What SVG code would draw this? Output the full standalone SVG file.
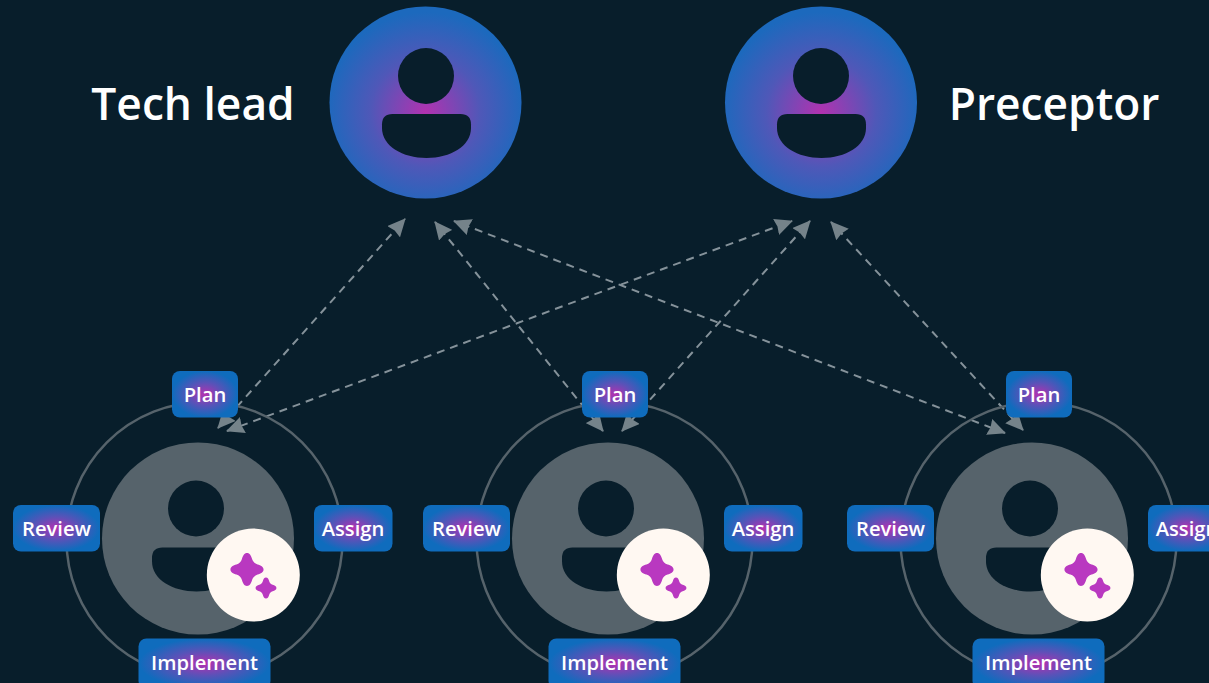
<svg xmlns="http://www.w3.org/2000/svg" width="1209" height="683" viewBox="0 0 1209 683">
<style>
.t{font-family:"Open Sans","Noto Sans","Liberation Sans",sans-serif;fill:#fff;text-anchor:middle}
.big{font-size:44.3px;font-weight:600}
.tag{font-size:20.200px;font-weight:600}
.cn{fill:none;stroke:#85929a;stroke-width:2;stroke-dasharray:8 6;marker-start:url(#ah);marker-end:url(#ah)}
.ring{fill:none;stroke:#56636b;stroke-width:2.5}
.bg{fill:#081e2b}
</style>
<defs>
<radialGradient id="g1" cx="0.5" cy="0.55" r="0.52"><stop offset="0" stop-color="#b232b0"/><stop offset="0.55" stop-color="#4f58b8"/><stop offset="1" stop-color="#1c69bd"/></radialGradient>
<radialGradient id="g2" cx="0.5" cy="0.5" r="0.55"><stop offset="0" stop-color="#b530b0"/><stop offset="0.45" stop-color="#5a52b8"/><stop offset="0.9" stop-color="#0f6cbd"/></radialGradient>
<marker id="ah" viewBox="0 0 18 17" refX="17" refY="8.500" markerWidth="18" markerHeight="17" markerUnits="userSpaceOnUse" orient="auto-start-reverse"><path d="M0 0L18 8.500L0 17L1.500 8.500Z" fill="#75838a"/></marker>
<path id="sp" d="M0-18C3-18 4.500-15 5.500-11.500C6.500-8.500 8.500-6.500 11.500-5.500C15-4.500 18-3 18 0C18 3 15 4.500 11.500 5.500C8.500 6.500 6.500 8.500 5.500 11.500C4.500 15 3 18 0 18C-3 18-4.500 15-5.500 11.500C-6.500 8.500-8.500 6.500-11.500 5.500C-15 4.500-18 3-18 0C-18-3-15-4.500-11.500-5.500C-8.500-6.500-6.500-8.500-5.500-11.500C-4.500-15-3-18 0-18Z" fill="#b938c0"/>
<path id="body" d="M-34 -22H34Q44.500 -22 44.500 -11.500V-8C44.500 10 24 22 0 22C-24 22 -44.500 10 -44.500 -8V-11.500Q-44.500 -22 -34 -22Z"/>
<g id="worker">
<circle class="ring" cx="204.500" cy="540" r="138"/>
<circle cx="198" cy="538.500" r="96" fill="#56636b"/>
<circle class="bg" cx="196" cy="508.500" r="28"/>
<use href="#body" class="bg" x="196.500" y="569.500"/>
<circle cx="253.300" cy="575" r="46.500" fill="#fff8f2"/>
<use href="#sp" transform="translate(247 569.500) scale(0.92)"/>
<use href="#sp" transform="translate(266 588) scale(0.58)"/>
</g>
<g id="tags">
<rect x="172" y="371" width="66" height="46.500" rx="8" fill="url(#g2)"/>
<text class="t tag" x="205" y="402">Plan</text>
<rect x="13" y="505" width="87" height="46.500" rx="8" fill="url(#g2)"/>
<text class="t tag" x="56.500" y="536">Review</text>
<rect x="314" y="505" width="78.500" height="46.500" rx="8" fill="url(#g2)"/>
<text class="t tag" x="353" y="536">Assign</text>
<rect x="138.500" y="638.500" width="132" height="50" rx="8" fill="url(#g2)"/>
<text class="t tag" x="204.500" y="670">Implement</text>
</g>
</defs>
<rect width="1209" height="683" fill="#081e2b"/>
<g id="connectors">
<path class="cn" d="M218 428L405 219"/>
<path class="cn" d="M227 431L792 221"/>
<path class="cn" d="M603 431L435 222"/>
<path class="cn" d="M622 431L810 221"/>
<path class="cn" d="M1005 433L454 221"/>
<path class="cn" d="M1023 430L831 222"/>
</g>
<g id="tech-lead">
<circle cx="425.500" cy="102.500" r="96" fill="url(#g1)"/>
<circle class="bg" cx="426" cy="76" r="28"/>
<use href="#body" class="bg" x="426.500" y="136"/>
<text class="t big" x="193" y="120">Tech lead</text>
</g>
<g id="preceptor">
<circle cx="821" cy="102.500" r="96" fill="url(#g1)"/>
<circle class="bg" cx="821" cy="76" r="28"/>
<use href="#body" class="bg" x="821.500" y="136"/>
<text class="t big" x="1054" y="120">Preceptor</text>
</g>
<g id="agent-1"><use href="#worker"/><use href="#tags"/></g>
<g id="agent-2"><use href="#worker" x="410"/><use href="#tags" x="410"/></g>
<g id="agent-3"><use href="#worker" x="834"/><use href="#tags" x="834"/></g>
</svg>
